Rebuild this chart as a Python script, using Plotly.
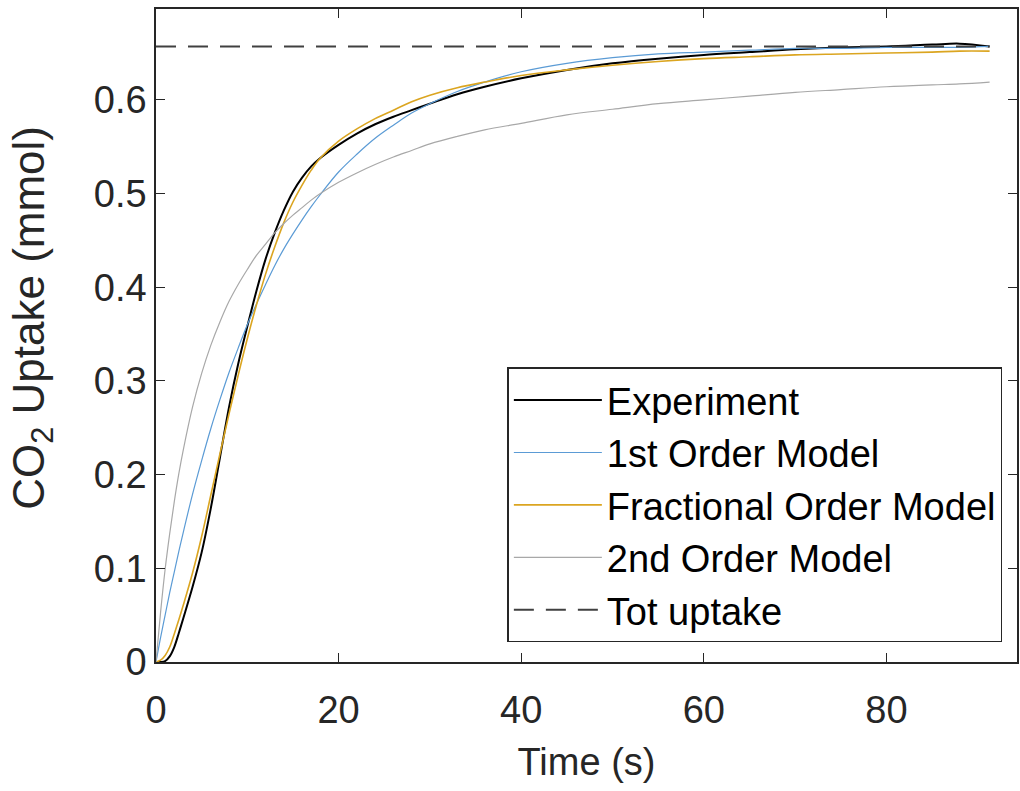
import plotly.graph_objects as go

# Time grid (s)
time_s = [0, 0.5, 1, 1.5, 2, 2.5, 3, 4, 5, 6, 7, 8, 9, 10, 11, 12, 13, 14, 15, 16, 17, 18,
          20, 22, 24, 26, 28, 30, 33, 36, 40, 45, 50, 55, 60, 65, 70, 75, 80, 85, 88, 91.3]

experiment = [0, 0.0, 0.001, 0.006, 0.016, 0.031, 0.047, 0.080, 0.117, 0.164, 0.218, 0.272,
              0.318, 0.358, 0.396, 0.430, 0.458, 0.482, 0.502, 0.517, 0.529, 0.538,
              0.552, 0.564, 0.574, 0.582, 0.589, 0.596, 0.606, 0.614, 0.623, 0.632,
              0.639, 0.644, 0.648, 0.651, 0.654, 0.656, 0.657, 0.659, 0.660, 0.657]

first_order = [0, 0.026, 0.050, 0.074, 0.096, 0.118, 0.139, 0.179, 0.215, 0.249, 0.280, 0.309,
               0.335, 0.360, 0.382, 0.403, 0.423, 0.441, 0.457, 0.472, 0.486, 0.499,
               0.523, 0.542, 0.559, 0.573, 0.586, 0.596, 0.609, 0.619, 0.630, 0.639,
               0.645, 0.649, 0.651, 0.653, 0.655, 0.655, 0.656, 0.656, 0.656, 0.657]

fractional = [0, 0.002, 0.007, 0.016, 0.030, 0.045, 0.061, 0.095, 0.134, 0.178, 0.222, 0.265,
              0.306, 0.345, 0.381, 0.414, 0.443, 0.469, 0.491, 0.509, 0.525, 0.538,
              0.556, 0.569, 0.580, 0.589, 0.598, 0.605, 0.613, 0.619, 0.626, 0.632,
              0.637, 0.641, 0.644, 0.646, 0.648, 0.649, 0.650, 0.651, 0.652, 0.652]

second_order = [0, 0.053, 0.099, 0.137, 0.171, 0.201, 0.227, 0.272, 0.308, 0.338, 0.363, 0.385,
                0.403, 0.419, 0.434, 0.446, 0.458, 0.468, 0.477, 0.485, 0.493, 0.500,
                0.512, 0.522, 0.531, 0.539, 0.546, 0.553, 0.561, 0.568, 0.575, 0.584,
                0.590, 0.596, 0.600, 0.604, 0.608, 0.611, 0.614, 0.616, 0.617, 0.619]

tot_uptake = 0.657
x_ticks = [0, 20, 40, 60, 80]
y_ticks = [0, 0.1, 0.2, 0.3, 0.4, 0.5, 0.6]
y_ticklabels = ["0", "0.1", "0.2", "0.3", "0.4", "0.5", "0.6"]

FONT = "Liberation Sans, Arial, sans-serif"
AX = "#262626"

fig = go.Figure()
fig.add_trace(go.Scatter(x=time_s, y=experiment, mode="lines", name="Experiment",
                         line=dict(color="#000000", width=2, shape="spline")))
fig.add_trace(go.Scatter(x=time_s, y=first_order, mode="lines", name="1st Order Model",
                         line=dict(color="#5b9bd5", width=1.2, shape="spline")))
fig.add_trace(go.Scatter(x=time_s, y=fractional, mode="lines", name="Fractional Order Model",
                         line=dict(color="#dba520", width=1.6, shape="spline")))
fig.add_trace(go.Scatter(x=time_s, y=second_order, mode="lines", name="2nd Order Model",
                         line=dict(color="#a8a8a8", width=1.2, shape="spline")))
fig.add_trace(go.Scatter(x=[time_s[0], time_s[-1]], y=[tot_uptake, tot_uptake], mode="lines",
                         name="Tot uptake",
                         line=dict(color="#404040", width=2, dash="20px,12px")))

fig.update_layout(
    width=1020, height=791,
    margin=dict(l=156, r=1, t=9, b=129),
    paper_bgcolor="white", plot_bgcolor="white",
    font=dict(family=FONT, size=38, color=AX),
    showlegend=True,
    legend=dict(x=0.983, y=0.03, xanchor="right", yanchor="bottom",
                bgcolor="white", bordercolor=AX, borderwidth=1.5,
                font=dict(size=38, color="#000000"), itemwidth=88,
                tracegroupgap=0),
    xaxis=dict(range=[0, 94.3], tickvals=x_ticks, ticks="inside", ticklen=9,
               tickcolor=AX, showline=True, linecolor=AX, linewidth=1.5, mirror="ticks",
               showgrid=False, zeroline=False, tickfont=dict(size=38, color=AX),
               ticklabelstandoff=14,
               title=dict(text="Time (s)", font=dict(size=38, color=AX), standoff=18)),
    yaxis=dict(range=[0, 0.697], tickvals=y_ticks, ticktext=y_ticklabels, ticks="inside",
               ticklen=9, tickcolor=AX, showline=True, linecolor=AX, linewidth=1.5,
               mirror="ticks", showgrid=False, zeroline=False,
               tickfont=dict(size=38, color=AX)),
    annotations=[dict(text="CO<sub>2</sub> Uptake (mmol)", textangle=-90,
                      xref="paper", yref="paper", x=0, y=0.527, xshift=-124,
                      xanchor="center", yanchor="middle", showarrow=False,
                      font=dict(size=44, color=AX, family=FONT))],
)

fig.write_html("out.html")
